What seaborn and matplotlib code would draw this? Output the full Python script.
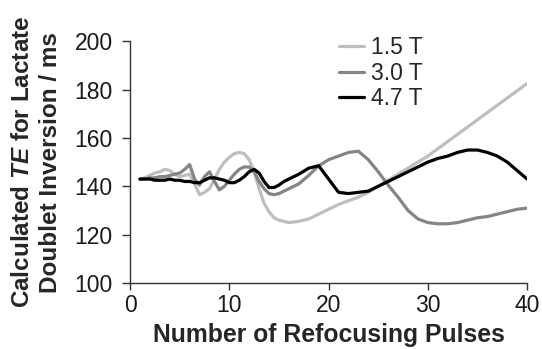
import numpy as np
import pandas as pd
import matplotlib
matplotlib.use('Agg')
import matplotlib.pyplot as plt
import seaborn as sns

# -------------------------------------------------------
# Data
# -------------------------------------------------------
pulses = [1.0, 1.5, 2.0, 2.5, 3.0, 3.5, 4.0, 4.5, 5.0, 5.5, 6.0, 6.5, 7.0, 7.5,
          8.0, 8.5, 9.0, 9.5, 10.0, 10.5, 11.0, 11.5, 12.0, 12.5, 13.0, 13.5,
          14.0, 14.5, 15.0, 15.5, 16.0,
          17, 18, 19, 20, 21, 22, 23, 24, 25, 26, 27, 28, 29, 30, 31, 32,
          33, 34, 35, 36, 37, 38, 39, 40]

te_15T = [143, 143.5, 144.5, 145.5, 146, 147, 146.5, 145, 144, 144.5, 145, 141,
          136.5, 137.5, 139, 143, 147, 150, 152, 153.5, 154, 153.5, 151, 146,
          139, 133, 129.5, 127, 126, 125.5, 125,
          125.5, 126.5, 128.5, 130.5, 132.5, 134, 135.5, 137.5, 140, 142.5,
          145, 147.5, 150, 152.5, 155.5, 158.5, 161.5, 164.5, 167.5, 170.5,
          173.5, 176.5, 179.5, 182.5]

te_30T = [143, 143, 143.5, 143.5, 144, 144, 144.5, 145, 145.5, 147, 149, 143,
          140.5, 144, 146, 142, 138.5, 140, 142.5, 145, 147, 148, 148, 146,
          142, 139, 137, 136.5, 137, 138, 139,
          141, 144.5, 148.5, 151, 152.5, 154, 154.5, 151, 146, 140.5, 135.5,
          130, 126.5, 125, 124.5, 124.5, 125, 126, 127, 127.5, 128.5, 129.5,
          130.5, 131]

te_47T = [143, 143, 143, 142.5, 142.5, 142.5, 143, 142.5, 142.5, 142, 142, 141.5,
          141.5, 142.5, 143.5, 143.5, 143, 142.5, 141.5, 141.5, 142.5, 144, 146,
          147, 145.5, 142, 139.5, 139.5, 140.5, 142, 143,
          145, 147.5, 148.5, 143, 137.5, 137, 137.5, 138, 140, 142, 144, 146,
          148, 150, 151.5, 152.5, 154, 155, 155, 154, 152.5, 150, 146.5, 143]

field_labels = ['1.5 T', '3.0 T', '4.7 T']
line_colors = ['#bebebe', '#858585', '#000000']

df = pd.DataFrame({
    'pulses': pulses * 3,
    'te': te_15T + te_30T + te_47T,
    'field': [field_labels[0]] * len(pulses) + [field_labels[1]] * len(pulses)
             + [field_labels[2]] * len(pulses),
})

# -------------------------------------------------------
# Plot
# -------------------------------------------------------
sns.set_style('ticks')
plt.rcParams['font.family'] = ['Liberation Sans', 'DejaVu Sans']
plt.rcParams['mathtext.fontset'] = 'custom'
plt.rcParams['mathtext.bfit'] = 'Liberation Sans:bold:italic'
plt.rcParams['mathtext.bf'] = 'Liberation Sans:bold'
plt.rcParams['mathtext.rm'] = 'Liberation Sans:bold'

fig = plt.figure(figsize=(5.42, 3.49), dpi=100)
ax = fig.add_axes([0.240, 0.189, 0.7325, 0.693])

sns.lineplot(data=df, x='pulses', y='te', hue='field', palette=line_colors,
             hue_order=field_labels, linewidth=2.3, ax=ax, legend=False)

ax.set_xlim(0, 40)
ax.set_ylim(100, 200)
ax.set_xticks([0, 10, 20, 30, 40])
ax.set_yticks([100, 120, 140, 160, 180, 200])
ax.tick_params(axis='both', labelsize=16.5, width=1.0, direction='out',
               color='#333333', labelcolor='#1a1a1a')
ax.tick_params(axis='x', length=5, pad=3)
ax.tick_params(axis='y', length=6, pad=6.5)
for sp in ['left', 'bottom']:
    ax.spines[sp].set_color('#333333')
    ax.spines[sp].set_linewidth(1.0)
sns.despine(ax=ax)

ax.set_xlabel('Number of Refocusing Pulses', fontsize=17.8, fontweight='bold',
              labelpad=4)
ax.set_ylabel('Calculated $\\mathbfit{TE}$ for Lactate\nDoublet Inversion / ms',
              fontsize=17.5, fontweight='bold', labelpad=9, linespacing=1.25)

handles = [plt.Line2D([], [], color=c, lw=2.3) for c in line_colors]
ax.legend(handles, field_labels, loc='upper left', bbox_to_anchor=(0.525, 1.022),
          frameon=False, fontsize=16.5, handlelength=1.1, handletextpad=0.3,
          labelspacing=0.12, borderaxespad=0, borderpad=0)

fig.savefig('out.png', dpi=100)
plt.close()
